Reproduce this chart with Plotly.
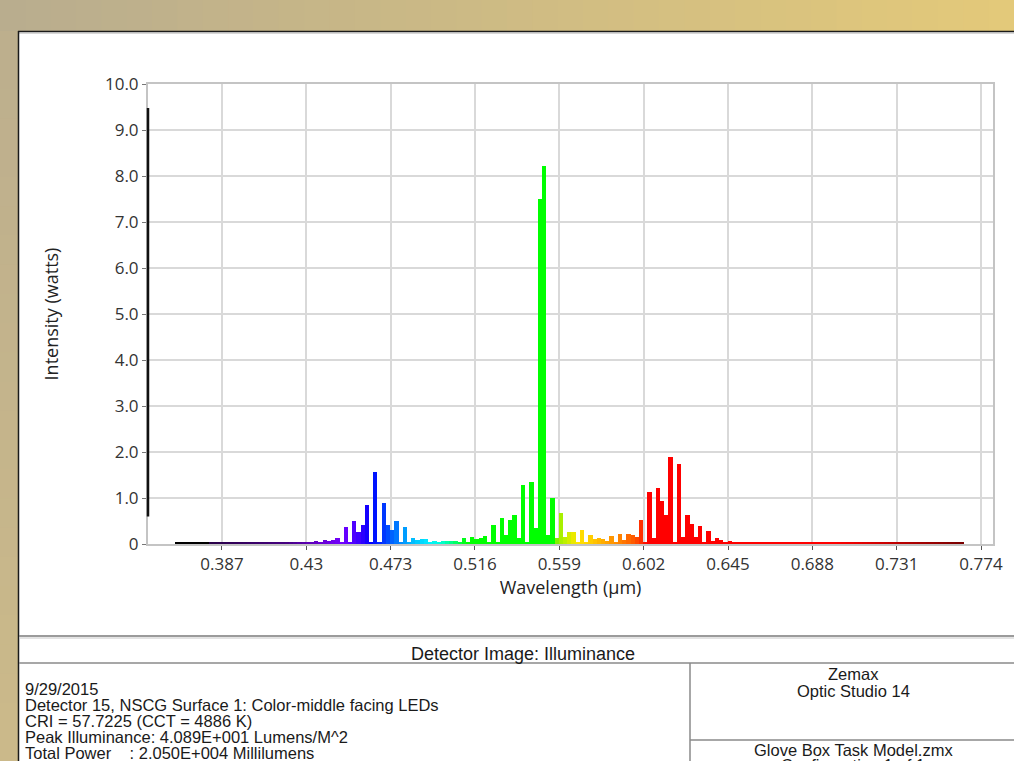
import numpy as np
import plotly.graph_objects as go

# ---------------- data ----------------
bin_start = 0.3631      # µm, left edge of first detector bin
bin_width = 0.00215     # µm
intensity = [
    # 0.363 - 0.42 (black / dark violet baseline)
    0.03, 0.03, 0.03, 0.03, 0.03, 0.03, 0.03, 0.03,
    0.03, 0.03, 0.03, 0.03, 0.03, 0.03, 0.03, 0.03, 0.03, 0.03,
    0.03, 0.03, 0.03, 0.03, 0.03, 0.03, 0.03, 0.03, 0.03, 0.03, 0.03,
    # violet / blue
    0.03, 0.03, 0.04, 0.03, 0.07, 0.04, 0.09, 0.07, 0.09, 0.14,
    0.03, 0.36, 0.04, 0.49, 0.27, 0.42, 0.85, 0.03, 1.57, 0.03,
    0.90, 0.41, 0.30, 0.49, 0.04, 0.36, 0.03, 0.14, 0.08, 0.10,
    # cyan
    0.10, 0.03, 0.07, 0.03, 0.06, 0.06, 0.07, 0.07, 0.03, 0.13,
    0.03, 0.16, 0.10, 0.14, 0.18, 0.03, 0.41, 0.04, 0.56, 0.20,
    # green
    0.53, 0.62, 0.12, 1.28, 0.05, 1.35, 0.34, 7.49, 8.22, 0.20,
    1.01, 0.14, 0.68, 0.15, 0.26, 0.26, 0.05, 0.30, 0.04, 0.20,
    # yellow / orange
    0.10, 0.12, 0.11, 0.06, 0.18, 0.04, 0.22, 0.08, 0.22, 0.19,
    0.16, 0.52, 0.04, 1.12, 0.13, 1.21, 0.93, 0.62, 1.90, 0.04,
    # red
    1.75, 0.16, 0.63, 0.43, 0.15, 0.39, 0.04, 0.29, 0.06, 0.12,
    0.08, 0.05, 0.07, 0.03, 0.05, 0.03, 0.03, 0.03, 0.03, 0.03,
    0.03, 0.03, 0.03, 0.03, 0.03, 0.03, 0.03, 0.03, 0.03, 0.03,
    0.03, 0.03, 0.03, 0.03, 0.03, 0.03, 0.03, 0.03, 0.03, 0.03,
    0.03, 0.03, 0.03, 0.03, 0.03, 0.03, 0.03, 0.03, 0.03, 0.03,
    0.03, 0.03, 0.03, 0.03, 0.03, 0.03, 0.03, 0.03, 0.03, 0.03,
    0.03, 0.03, 0.03, 0.03, 0.03, 0.03, 0.03, 0.03,
]
wavelength = [round(bin_start + bin_width * (i + 0.5), 5) for i in range(len(intensity))]

x_tickvals = [0.387, 0.43, 0.473, 0.516, 0.559, 0.602, 0.645, 0.688, 0.731, 0.774]
x_ticktext = ["0.387", "0.43", "0.473", "0.516", "0.559", "0.602", "0.645", "0.688", "0.731", "0.774"]
y_tickvals = [0, 1, 2, 3, 4, 5, 6, 7, 8, 9, 10]
y_ticktext = ["0", "1.0", "2.0", "3.0", "4.0", "5.0", "6.0", "7.0", "8.0", "9.0", "10.0"]

title_text = "Detector Image: Illuminance"
info_lines = [
    "9/29/2015",
    "Detector 15, NSCG Surface 1: Color-middle facing LEDs",
    "CRI = 57.7225 (CCT = 4886 K)",
    "Peak Illuminance: 4.089E+001 Lumens/M^2",
    "Total Power\u00a0\u00a0\u00a0\u00a0: 2.050E+004 Millilumens",
]
brand_lines = ["Zemax", "Optic Studio 14"]
file_lines = ["Glove Box Task Model.zmx", "Configuration 1 of 1"]

# ---------------- spectral colour mapping ----------------
anchors = [
    (0.3799, 0, 0, 0), (0.3800, 40, 0, 70), (0.4200, 70, 0, 130), (0.4350, 100, 0, 200),
    (0.4480, 115, 0, 255), (0.4560, 70, 0, 255), (0.4630, 0, 0, 255), (0.4700, 0, 60, 255),
    (0.4780, 0, 140, 255), (0.4860, 0, 200, 255), (0.4930, 0, 240, 255), (0.4990, 0, 255, 210),
    (0.5050, 0, 255, 120), (0.5100, 0, 255, 30), (0.5130, 0, 255, 0), (0.5555, 0, 255, 0),
    (0.5580, 150, 240, 0), (0.5630, 200, 240, 0), (0.5680, 255, 230, 0), (0.5750, 255, 205, 0),
    (0.5820, 255, 170, 0), (0.5900, 255, 130, 0), (0.5960, 255, 95, 0), (0.6000, 255, 60, 0),
    (0.6040, 255, 0, 0), (0.7000, 255, 0, 0), (0.7700, 110, 0, 0),
]
a = np.array(anchors)
def spec_color(l):
    r = np.interp(l, a[:, 0], a[:, 1], left=0, right=110)
    g = np.interp(l, a[:, 0], a[:, 2], left=0, right=0)
    b = np.interp(l, a[:, 0], a[:, 3], left=0, right=0)
    return f"rgb({int(r)},{int(g)},{int(b)})"
colors = [spec_color(l) for l in wavelength]

# ---------------- layout geometry ----------------
W, H = 1014, 761
ML, MR, MT, MB = 148, 21, 84, 217
PW, PH = W - ML - MR, H - MT - MB
def px(x): return (x - ML) / PW
def py(y): return (H - MB - y) / PH

fig = go.Figure()
fig.add_trace(go.Bar(x=wavelength, y=intensity, width=bin_width,
                     marker=dict(color=colors, line=dict(width=0)),
                     hoverinfo="x+y", showlegend=False))

shapes = []
# background gradient strips
def lerp(c1, c2, t):
    return "rgb(%d,%d,%d)" % tuple(int(c1[i] + (c2[i] - c1[i]) * t) for i in range(3))
top_l, top_r = (185, 173, 143), (228, 202, 122)
n = 40
for i in range(n):
    x0 = W * i / n; x1 = W * (i + 1) / n + 1
    shapes.append(dict(type="rect", xref="paper", yref="paper", x0=px(x0), x1=px(x1),
                       y0=py(31), y1=py(0), fillcolor=lerp(top_l, top_r, (i + 0.5) / n),
                       line=dict(width=0), layer="below"))
left_t, left_b = (189, 175, 142), (204, 186, 138)
m = 25
for i in range(m):
    y0 = 31 + (H - 31) * i / m; y1 = 31 + (H - 31) * (i + 1) / m + 1
    shapes.append(dict(type="rect", xref="paper", yref="paper", x0=px(0), x1=px(18),
                       y0=py(y1), y1=py(y0), fillcolor=lerp(left_t, left_b, (i + 0.5) / m),
                       line=dict(width=0), layer="below"))
# panel borders
shapes.append(dict(type="line", xref="paper", yref="paper", x0=px(18), x1=px(W), y0=py(31.5), y1=py(31.5),
                   line=dict(color="#1a1a1a", width=1.5)))
shapes.append(dict(type="line", xref="paper", yref="paper", x0=px(18), x1=px(W), y0=py(33), y1=py(33),
                   line=dict(color="#b0b0b0", width=1)))
shapes.append(dict(type="line", xref="paper", yref="paper", x0=px(18.5), x1=px(18.5), y0=py(31), y1=py(H),
                   line=dict(color="#1a1a1a", width=1.5)))
# bottom info box lines
for yy, col, wd in [(636, "#7a7a7a", 1.5), (638, "#c8c8c8", 1), (663, "#8a8a8a", 1.5)]:
    shapes.append(dict(type="line", xref="paper", yref="paper", x0=px(19), x1=px(W), y0=py(yy), y1=py(yy),
                       line=dict(color=col, width=wd)))
shapes.append(dict(type="line", xref="paper", yref="paper", x0=px(690), x1=px(690), y0=py(663), y1=py(H),
                   line=dict(color="#8a8a8a", width=1.5)))
shapes.append(dict(type="line", xref="paper", yref="paper", x0=px(690), x1=px(W), y0=py(740), y1=py(740),
                   line=dict(color="#8a8a8a", width=1.5)))
# dark portion of the y axis line
shapes.append(dict(type="line", xref="x domain", yref="y", x0=0, x1=0, y0=0.6, y1=9.48,
                   line=dict(color="#111111", width=2.5)))

annotations = []
bfont = dict(family="Liberation Sans, Arial, sans-serif", size=16.5, color="#1a1a1a")
tfont = dict(family="Liberation Sans, Arial, sans-serif", size=18, color="#1a1a1a")
annotations.append(dict(text=title_text, xref="paper", yref="paper", x=px(523), y=py(654),
                        xanchor="center", yanchor="middle", showarrow=False, font=tfont))
for i, t in enumerate(info_lines):
    annotations.append(dict(text=t, xref="paper", yref="paper", x=px(23), y=py(689 + 16 * i),
                            xanchor="left", yanchor="middle", showarrow=False, font=bfont))
for i, t in enumerate(brand_lines):
    annotations.append(dict(text=t, xref="paper", yref="paper", x=px(853), y=py(674 + 17 * i),
                            xanchor="center", yanchor="middle", showarrow=False, font=bfont))
for i, t in enumerate(file_lines):
    annotations.append(dict(text=t, xref="paper", yref="paper", x=px(853), y=py(750 + 15 * i),
                            xanchor="center", yanchor="middle", showarrow=False, font=bfont))

tickfont = dict(family="Open Sans, sans-serif", size=17, color="#333333")
fig.update_layout(
    width=W, height=H,
    margin=dict(l=ML, r=MR, t=MT, b=MB, pad=0),
    paper_bgcolor="white", plot_bgcolor="white",
    bargap=0,
    shapes=shapes, annotations=annotations,
    xaxis=dict(range=[0.3493, 0.7801], tickvals=x_tickvals, ticktext=x_ticktext,
               showgrid=True, gridcolor="#d9d9d9", gridwidth=2,
               showline=True, linecolor="#c4c4c4", linewidth=2, mirror=True,
               ticks="outside", ticklen=4, tickcolor="#555555", tickwidth=1,
               tickfont=tickfont, zeroline=False,
               title=dict(text="Wavelength (µm)", font=dict(family="Open Sans, sans-serif", size=18, color="#222222"),
                          standoff=6)),
    yaxis=dict(range=[0, 10], tickvals=y_tickvals, ticktext=y_ticktext,
               showgrid=True, gridcolor="#d9d9d9", gridwidth=2,
               showline=True, linecolor="#c4c4c4", linewidth=2, mirror=True,
               ticks="outside", ticklen=4, tickcolor="#777777", tickwidth=1,
               tickfont=tickfont, zeroline=False,
               title=dict(text="Intensity (watts)", font=dict(family="Open Sans, sans-serif", size=18, color="#222222"),
                          standoff=42)),
)
fig.write_html("out.html", config={"displayModeBar": False},
               post_script="document.body.style.margin='0px';document.body.style.overflow='hidden';")
